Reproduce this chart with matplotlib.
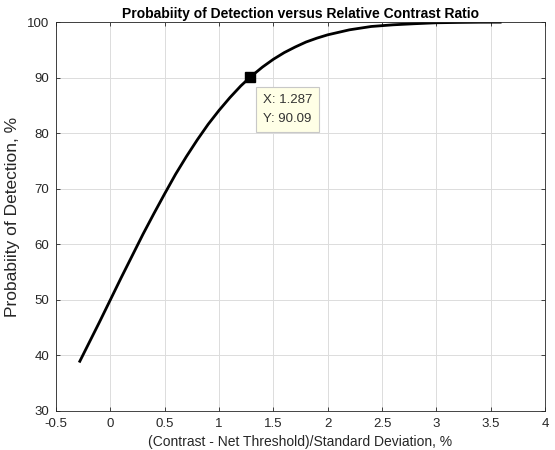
import matplotlib
matplotlib.use("Agg")
import matplotlib.pyplot as plt

x_vals = [-0.287, -0.2, -0.1, 0.0, 0.1, 0.2, 0.3, 0.4, 0.5, 0.6, 0.7, 0.8, 0.9, 1.0,
          1.1, 1.2, 1.287, 1.4, 1.5, 1.6, 1.7, 1.8, 1.9, 2.0, 2.2, 2.4, 2.6, 2.8,
          3.0, 3.2, 3.4, 3.6]
y_vals = [38.7, 42.1, 46.0, 50.0, 54.0, 57.9, 61.8, 65.5, 69.1, 72.6, 75.8, 78.8,
          81.6, 84.1, 86.4, 88.5, 90.09, 91.9, 93.3, 94.5, 95.5, 96.4, 97.1, 97.7,
          98.6, 99.2, 99.5, 99.7, 99.87, 99.93, 99.97, 99.98]
tip_x = 1.287
tip_y = 90.09
x_ticks = [-0.5, 0, 0.5, 1, 1.5, 2, 2.5, 3, 3.5, 4]
x_tick_labels = ["-0.5", "0", "0.5", "1", "1.5", "2", "2.5", "3", "3.5", "4"]
y_ticks = [30, 40, 50, 60, 70, 80, 90, 100]

plt.rcParams['font.family'] = ['Liberation Sans', 'DejaVu Sans']
fig = plt.figure(figsize=(5.55, 4.5), dpi=100)
ax = fig.add_axes([0.101, 0.087, 0.881, 0.864])

ax.plot(x_vals, y_vals, color='black', linewidth=2.0, solid_capstyle='butt')
ax.plot([tip_x], [tip_y], marker='s', markersize=6.5, color='black', linestyle='none')
ax.annotate(f"X: {tip_x}\nY: {tip_y}", xy=(tip_x, tip_y), xytext=(9, -12),
            textcoords='offset points', ha='left', va='top', fontsize=9.5,
            color='#333333', linespacing=1.8,
            bbox=dict(boxstyle='square,pad=0.5', facecolor='#ffffe6', edgecolor='#c8c8c8', linewidth=0.8))

ax.set_xlim(-0.5, 4)
ax.set_ylim(30, 100)
ax.set_xticks(x_ticks)
ax.set_xticklabels(x_tick_labels)
ax.set_yticks(y_ticks)
ax.grid(True, color='#dcdcdc', linewidth=0.7)
ax.set_axisbelow(True)
ax.tick_params(direction='in', length=3, labelsize=9.5, colors='#262626', width=0.6, pad=5)
for s in ax.spines.values():
    s.set_color('#262626')
    s.set_linewidth(0.6)
ax.tick_params(top=True, right=True)
ax.set_title("Probabiity of Detection versus Relative Contrast Ratio", fontsize=10,
             fontweight='bold', pad=3)
ax.set_ylabel("Probabiity of Detection, %", fontsize=12.5, color='#262626', labelpad=5)
ax.set_xlabel("(Contrast - Net Threshold)/Standard Deviation, %", fontsize=10,
              color='#262626', labelpad=4)

fig.savefig("out.png", dpi=100)
